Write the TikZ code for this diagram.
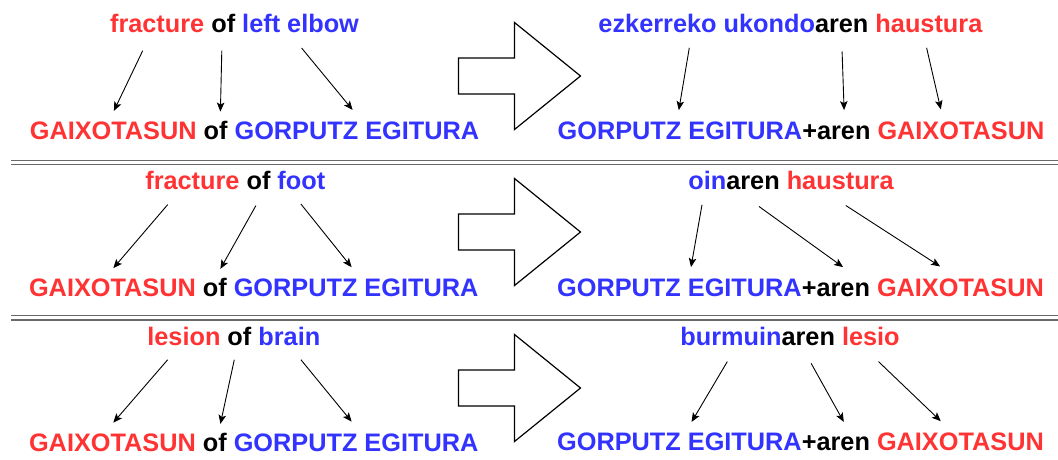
\documentclass[tikz,border=0pt]{standalone}
\usepackage{fontspec}
\setmainfont{Liberation Sans}
\usetikzlibrary{arrows.meta}
\definecolor{tred}{RGB}{255,51,51}
\definecolor{tblue}{RGB}{51,51,255}
\definecolor{sepgray}{RGB}{105,105,105}
\newcommand{\rd}[1]{\textcolor{tred}{#1}}
\newcommand{\bl}[1]{\textcolor{tblue}{#1}}
\begin{document}
\begin{tikzpicture}[x=1pt,y=-1pt,
  txt/.style={anchor=base,inner sep=0pt,font=\fontsize{25.3}{30}\selectfont\bfseries},
  link/.style={line width=0.9pt,-{Stealth[length=9pt,width=7.5pt,inset=2pt]}},
  bigarrow/.style={draw=black,line width=1.2pt,fill=white,line join=miter},
  sepline/.style={draw=sepgray,line width=1.4pt},
  bigarr/.pic={\draw[bigarrow] (-122,-18) -- (-66,-18) -- (-66,-53.5) -- (0,0)
      -- (-66,53.5) -- (-66,18) -- (-122,18) -- cycle;}]
\useasboundingbox (0,0) rectangle (1058,459);

% separators
\draw[sepline] (11,160.7) -- (1058,160.7);
\draw[sepline] (11,164.7) -- (1058,164.7);
\draw[sepline] (11,315.4) -- (1058,315.4);
\draw[sepline] (11,319.9) -- (1058,319.9);

% big arrows
\pic (A1) at (580.5,76) {bigarr};
\pic (A2) at (580.5,232) {bigarr};
\pic (A3) at (580.5,388) {bigarr};

% ---------- row 1 ----------
\node[txt] (t1l) at (234.5,32.8) {\rd{fracture} of \bl{left elbow}};
\node[txt] (b1l) at (254.5,139.2) {\rd{GAIXOTASUN} of \bl{GORPUTZ EGITURA}};
\node[txt] (t1r) at (790.4,32.8) {\bl{ezkerreko ukondo}aren \rd{haustura}};
\node[txt] (b1r) at (801,139.2) {\bl{GORPUTZ EGITURA}+aren \rd{GAIXOTASUN}};

\coordinate (s11) at (142.7,50.7); \coordinate (e11) at (113.9,110.9);
\coordinate (s12) at (221.8,50.7); \coordinate (e12) at (220.4,111.6);
\coordinate (s13) at (301.6,48);   \coordinate (e13) at (352.6,109.9);
\coordinate (s14) at (689.3,47.8); \coordinate (e14) at (678.8,110.1);
\coordinate (s15) at (842.1,51.5); \coordinate (e15) at (844.1,110.1);
\coordinate (s16) at (926.6,47.8); \coordinate (e16) at (940.8,109.4);
\foreach \i in {1,...,6}{\draw[link] (s1\i) -- (e1\i);}

% ---------- row 2 ----------
\node[txt] (t2l) at (235.3,189.7) {\rd{fracture} of \bl{foot}};
\node[txt] (b2l) at (253.7,296.7) {\rd{GAIXOTASUN} of \bl{GORPUTZ EGITURA}};
\node[txt] (t2r) at (791,189.6) {\bl{oin}aren \rd{haustura}};
\node[txt] (b2r) at (800.5,296.5) {\bl{GORPUTZ EGITURA}+aren \rd{GAIXOTASUN}};

\coordinate (s21) at (167.7,204.6); \coordinate (e21) at (113.3,268.2);
\coordinate (s22) at (255.9,205.6); \coordinate (e22) at (220.4,268.9);
\coordinate (s23) at (300.9,204);   \coordinate (e23) at (351.6,267.2);
\coordinate (s24) at (702,204.8);   \coordinate (e24) at (691,267.1);
\coordinate (s25) at (759,206.5);   \coordinate (e25) at (843.1,267.1);
\coordinate (s26) at (845.8,205.5); \coordinate (e26) at (940.1,266.4);
\foreach \i in {1,...,6}{\draw[link] (s2\i) -- (e2\i);}

% ---------- row 3 ----------
\node[txt] (t3l) at (233.8,345.3) {\rd{lesion} of \bl{brain}};
\node[txt] (b3l) at (253.7,451.5) {\rd{GAIXOTASUN} of \bl{GORPUTZ EGITURA}};
\node[txt] (t3r) at (790,345) {\bl{burmuin}aren \rd{lesio}};
\node[txt] (b3r) at (800.5,450.5) {\bl{GORPUTZ EGITURA}+aren \rd{GAIXOTASUN}};

\coordinate (s31) at (167.7,359.7); \coordinate (e31) at (113.3,422.6);
\coordinate (s32) at (234.3,359.7); \coordinate (e32) at (220.4,423.9);
\coordinate (s33) at (300.9,359.7); \coordinate (e33) at (351.6,421.6);
\coordinate (s34) at (727.3,361.6); \coordinate (e34) at (691.6,421.9);
\coordinate (s35) at (811.1,363.3); \coordinate (e35) at (843.8,421.9);
\coordinate (s36) at (878.5,361.6); \coordinate (e36) at (940.8,421.2);
\foreach \i in {1,...,6}{\draw[link] (s3\i) -- (e3\i);}
\end{tikzpicture}
\end{document}
